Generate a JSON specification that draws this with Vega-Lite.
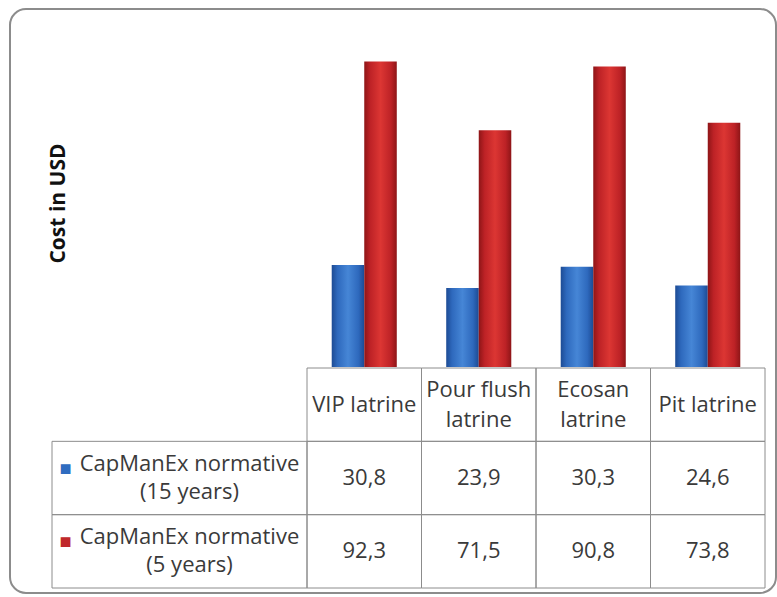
{
  "$schema": "https://vega.github.io/schema/vega-lite/v6.json",
  "autosize": {"type": "none"},
  "width": 766,
  "height": 584,
  "padding": {"left": 10, "top": 9, "right": 1, "bottom": 4},
  "background": "white",
  "config": {
    "view": {"stroke": "#8c8c8c", "strokeWidth": 2, "cornerRadius": 16},
    "font": "Open Sans",
    "text": {"font": "Open Sans", "fontSize": 22, "color": "#3a3a3a"}
  },
  "datasets": {
    "rows": [
      {"category": "VIP latrine", "series": "15 years", "value": 30.8, "label": "30,8"},
      {"category": "Pour flush latrine", "series": "15 years", "value": 23.9, "label": "23,9"},
      {"category": "Ecosan latrine", "series": "15 years", "value": 30.3, "label": "30,3"},
      {"category": "Pit latrine", "series": "15 years", "value": 24.6, "label": "24,6"},
      {"category": "VIP latrine", "series": "5 years", "value": 92.3, "label": "92,3"},
      {"category": "Pour flush latrine", "series": "5 years", "value": 71.5, "label": "71,5"},
      {"category": "Ecosan latrine", "series": "5 years", "value": 90.8, "label": "90,8"},
      {"category": "Pit latrine", "series": "5 years", "value": 73.8, "label": "73,8"}
    ],
    "cats": [
      {"category": "VIP latrine", "header": ["VIP latrine"], "lines": 1},
      {"category": "Pour flush latrine", "header": ["Pour flush", "latrine"], "lines": 2},
      {"category": "Ecosan latrine", "header": ["Ecosan", "latrine"], "lines": 2},
      {"category": "Pit latrine", "header": ["Pit latrine"], "lines": 1}
    ],
    "legend": [
      {"series": "15 years", "name": ["CapManEx normative", "(15 years)"], "color": "#2f6cc0"},
      {"series": "5 years", "name": ["CapManEx normative", "(5 years)"], "color": "#c0282b"}
    ]
  },
  "resolve": {"scale": {"x": "independent", "y": "independent", "xOffset": "independent", "color": "independent"}},
  "layer": [
    {
      "data": {"name": "rows"},
      "transform": [{"filter": "datum.series === '15 years'"}],
      "mark": {"type": "bar", "fill": {"gradient": "linear", "x1": 0, "y1": 0, "x2": 1, "y2": 0, "stops": [
        {"offset": 0, "color": "#1d4b94"}, {"offset": 0.18, "color": "#2e69bd"}, {"offset": 0.5, "color": "#4686d6"}, {"offset": 0.82, "color": "#2e69bd"}, {"offset": 1, "color": "#1d4b94"}]}},
      "encoding": {
        "x": {"field": "category", "type": "nominal", "axis": null, "sort": null,
              "scale": {"type": "band", "domain": ["VIP latrine", "Pour flush latrine", "Ecosan latrine", "Pit latrine"], "range": [297, 755], "padding": 0}},
        "xOffset": {"field": "series", "type": "nominal", "scale": {"domain": ["15 years", "5 years"], "paddingInner": 0, "paddingOuter": 0.76}},
        "y": {"field": "value", "type": "quantitative",
              "scale": {"domain": [0, 100], "range": [358, 27], "nice": false, "zero": true},
              "axis": {"title": "Cost in USD", "labels": false, "ticks": false, "domain": false, "grid": false,
                       "titleFont": "Open Sans", "titleFontSize": 21, "titleFontWeight": "bold", "titleColor": "#111",
                       "titleX": 48, "titleY": 194, "titleAngle": 270, "titleAlign": "center", "titleBaseline": "middle"}}
      }
    },
    {
      "data": {"name": "rows"},
      "transform": [{"filter": "datum.series === '5 years'"}],
      "mark": {"type": "bar", "fill": {"gradient": "linear", "x1": 0, "y1": 0, "x2": 1, "y2": 0, "stops": [
        {"offset": 0, "color": "#8e1517"}, {"offset": 0.18, "color": "#bd2226"}, {"offset": 0.5, "color": "#dc3633"}, {"offset": 0.82, "color": "#bd2226"}, {"offset": 1, "color": "#8e1517"}]}},
      "encoding": {
        "x": {"field": "category", "type": "nominal", "axis": null, "sort": null,
              "scale": {"type": "band", "domain": ["VIP latrine", "Pour flush latrine", "Ecosan latrine", "Pit latrine"], "range": [297, 755], "padding": 0}},
        "xOffset": {"field": "series", "type": "nominal", "scale": {"domain": ["15 years", "5 years"], "paddingInner": 0, "paddingOuter": 0.76}},
        "y": {"field": "value", "type": "quantitative", "axis": null,
              "scale": {"domain": [0, 100], "range": [358, 27], "nice": false, "zero": true}}
      }
    },
    {
      "data": {"name": "cats"},
      "mark": {"type": "rect", "fill": "transparent", "stroke": "#8c8c8c", "strokeWidth": 1},
      "encoding": {
        "x": {"field": "category", "type": "nominal", "axis": null,
              "scale": {"type": "band", "domain": ["VIP latrine", "Pour flush latrine", "Ecosan latrine", "Pit latrine"], "range": [297, 755], "padding": 0}},
        "y": {"datum": "header", "type": "nominal", "axis": null,
              "scale": {"type": "band", "domain": ["header", "15 years", "5 years"], "range": [359, 579], "padding": 0}}
      }
    },
    {
      "data": {"name": "rows"},
      "mark": {"type": "rect", "fill": "transparent", "stroke": "#8c8c8c", "strokeWidth": 1},
      "encoding": {
        "x": {"field": "category", "type": "nominal", "axis": null,
              "scale": {"type": "band", "domain": ["VIP latrine", "Pour flush latrine", "Ecosan latrine", "Pit latrine"], "range": [297, 755], "padding": 0}},
        "y": {"field": "series", "type": "nominal", "axis": null,
              "scale": {"type": "band", "domain": ["header", "15 years", "5 years"], "range": [359, 579], "padding": 0}}
      }
    },
    {
      "data": {"name": "legend"},
      "mark": {"type": "rect", "fill": "transparent", "stroke": "#8c8c8c", "strokeWidth": 1},
      "encoding": {
        "x": {"datum": "label", "type": "nominal", "axis": null,
              "scale": {"type": "band", "domain": ["label"], "range": [42, 297], "padding": 0}},
        "y": {"field": "series", "type": "nominal", "axis": null,
              "scale": {"type": "band", "domain": ["header", "15 years", "5 years"], "range": [359, 579], "padding": 0}}
      }
    },
    {
      "data": {"name": "cats"},
      "transform": [{"filter": "datum.lines === 1"}],
      "mark": {"type": "text", "align": "center", "baseline": "middle", "lineHeight": 30},
      "encoding": {
        "text": {"field": "header"},
        "x": {"field": "category", "type": "nominal", "axis": null, "bandPosition": 0.5,
              "scale": {"type": "band", "domain": ["VIP latrine", "Pour flush latrine", "Ecosan latrine", "Pit latrine"], "range": [297, 755], "padding": 0}},
        "y": {"datum": "header", "type": "nominal", "axis": null, "bandPosition": 0.5,
              "scale": {"type": "band", "domain": ["header", "15 years", "5 years"], "range": [359, 579], "padding": 0}}
      }
    },
    {
      "data": {"name": "cats"},
      "transform": [{"filter": "datum.lines === 2"}],
      "mark": {"type": "text", "align": "center", "baseline": "middle", "lineHeight": 30, "dy": -15},
      "encoding": {
        "text": {"field": "header"},
        "x": {"field": "category", "type": "nominal", "axis": null, "bandPosition": 0.5,
              "scale": {"type": "band", "domain": ["VIP latrine", "Pour flush latrine", "Ecosan latrine", "Pit latrine"], "range": [297, 755], "padding": 0}},
        "y": {"datum": "header", "type": "nominal", "axis": null, "bandPosition": 0.5,
              "scale": {"type": "band", "domain": ["header", "15 years", "5 years"], "range": [359, 579], "padding": 0}}
      }
    },
    {
      "data": {"name": "rows"},
      "mark": {"type": "text", "align": "center", "baseline": "middle"},
      "encoding": {
        "text": {"field": "label"},
        "x": {"field": "category", "type": "nominal", "axis": null, "bandPosition": 0.5,
              "scale": {"type": "band", "domain": ["VIP latrine", "Pour flush latrine", "Ecosan latrine", "Pit latrine"], "range": [297, 755], "padding": 0}},
        "y": {"field": "series", "type": "nominal", "axis": null, "bandPosition": 0.5,
              "scale": {"type": "band", "domain": ["header", "15 years", "5 years"], "range": [359, 579], "padding": 0}}
      }
    },
    {
      "data": {"name": "legend"},
      "mark": {"type": "text", "align": "center", "baseline": "middle", "lineHeight": 28, "dx": 10, "dy": -14},
      "encoding": {
        "text": {"field": "name"},
        "x": {"datum": "label", "type": "nominal", "axis": null, "bandPosition": 0.5,
              "scale": {"type": "band", "domain": ["label"], "range": [42, 297], "padding": 0}},
        "y": {"field": "series", "type": "nominal", "axis": null, "bandPosition": 0.5,
              "scale": {"type": "band", "domain": ["header", "15 years", "5 years"], "range": [359, 579], "padding": 0}}
      }
    },
    {
      "data": {"name": "legend"},
      "mark": {"type": "text", "align": "center", "baseline": "middle", "fontSize": 20, "dx": -114, "dy": -9},
      "encoding": {
        "text": {"value": "■"},
        "color": {"field": "color", "type": "nominal", "scale": null, "legend": null},
        "x": {"datum": "label", "type": "nominal", "axis": null, "bandPosition": 0.5,
              "scale": {"type": "band", "domain": ["label"], "range": [42, 297], "padding": 0}},
        "y": {"field": "series", "type": "nominal", "axis": null, "bandPosition": 0.5,
              "scale": {"type": "band", "domain": ["header", "15 years", "5 years"], "range": [359, 579], "padding": 0}}
      }
    }
  ]
}
